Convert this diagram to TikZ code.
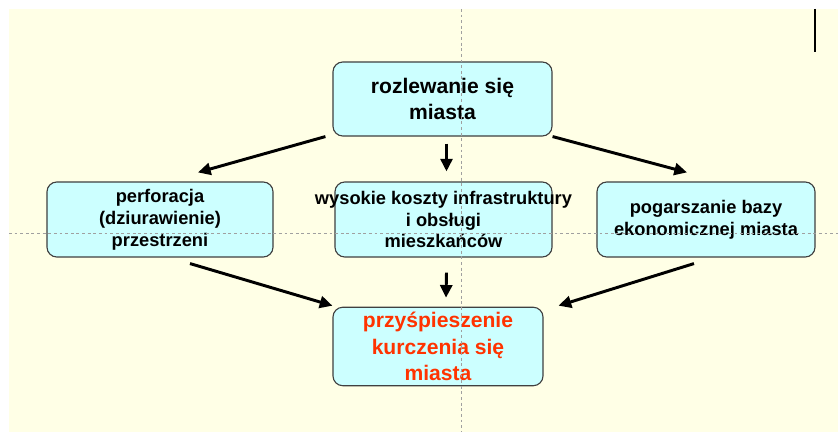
\documentclass[tikz,border=0pt]{standalone}
\usepackage{fontspec}
\setmainfont{Liberation Sans}
\usetikzlibrary{arrows.meta,calc}
\definecolor{cream}{HTML}{FFFFE6}
\definecolor{boxfill}{HTML}{CCFFFF}
\definecolor{redtxt}{HTML}{FF3300}
\definecolor{guide}{HTML}{A0A0A0}
\begin{document}
\begin{tikzpicture}[x=0.025cm,y=-0.025cm,
    box/.style={draw=black!75,fill=boxfill,rounded corners=7pt,line width=0.8pt,
      minimum height=1.875cm},
    big/.style={font=\bfseries\fontsize{15}{19}\selectfont,align=center},
    small/.style={font=\bfseries\fontsize{13}{15.6}\selectfont,align=center},
    arr/.style={line width=2.1pt,-{Triangle[length=9pt,width=8.5pt]}}]
  \useasboundingbox (0,0) rectangle (838,432);
  \fill[cream] (9,9) rectangle (838,432);
  \draw[line width=1.2pt] (815,9) -- (815,52);
  % boxes
  \node[box,big,minimum width=5.475cm,minimum height=1.85cm] (rozlew) at (442.5,99)
    {rozlewanie się\\miasta};
  \node[box,small,minimum width=5.65cm] (perf) at (160,219.5)
    {perforacja\\(dziurawienie)\\przestrzeni};
  \node[box,minimum width=5.425cm] (koszty) at (443.5,219.5) {};
  \node[small] at (koszty) {wysokie koszty infrastruktury\\i obsługi\\mieszkańców};
  \node[box,small,minimum width=5.45cm] (pogarsz) at (706,219.5)
    {pogarszanie bazy\\ekonomicznej miasta};
  \node[box,big,text=redtxt,minimum width=5.25cm] (przysp) at (438,346.5)
    {przyśpieszenie\\kurczenia się\\miasta};
  % guides
  \draw[guide,line width=0.5pt,dash pattern=on 2pt off 2pt] (461.5,9) -- (461.5,432)
    (9,233.5) -- (838,233.5);
  % arrows
  \draw[arr] ($(rozlew.south west)+(-7,0)$) -- ($(perf.north)+(38,-9)$);
  \draw[arr] ($(rozlew.south)+(4,7)$) -- ($(koszty.north)+(3,-10)$);
  \draw[arr] (rozlew.south east) -- ($(pogarsz.north)+(-19,-9)$);
  \draw[arr] ($(perf.south)+(30,6)$) -- ($(przysp.north west)+(0,-1)$);
  \draw[arr] ($(koszty.south)+(3,15)$) -- ($(przysp.north)+(8,-9)$);
  \draw[arr] ($(pogarsz.south)+(-12,6)$) -- ($(przysp.north east)+(15,-1)$);
\end{tikzpicture}
\end{document}
